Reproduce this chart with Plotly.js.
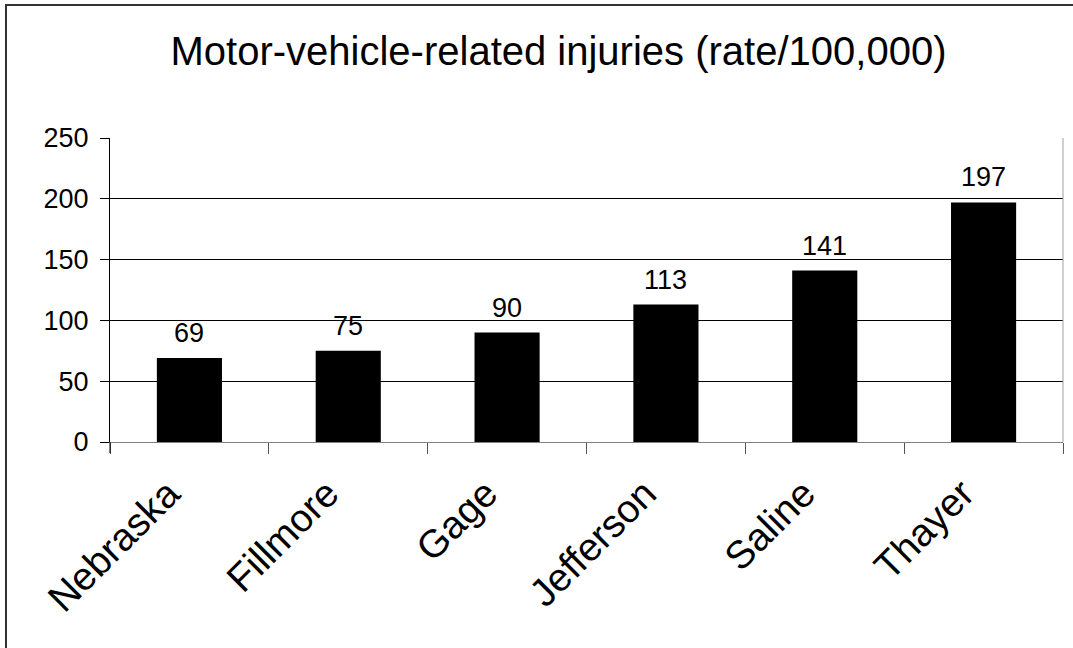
<!DOCTYPE html>
<html>
<head>
<meta charset="utf-8">
<script src="https://cdn.plot.ly/plotly-3.0.1.min.js"></script>
<style>
  html, body { margin: 0; padding: 0; background: #fff; }
  #wrap { position: relative; width: 1073px; height: 648px; overflow: hidden; }
  #chart { position: absolute; left: 0; top: 0; width: 1073px; height: 648px; }
  .bl { position: absolute; left: 5px; top: 4px; width: 2px; height: 644px; background: #333; pointer-events: none; }
  .bt { position: absolute; left: 5px; top: 4px; width: 1068px; height: 2px; background: #333; pointer-events: none; }
</style>
</head>
<body>
<div id="wrap">
  <div id="chart"></div>
  <div class="bl"></div>
  <div class="bt"></div>
</div>
<script>
const chartTitle = "Motor-vehicle-related injuries (rate/100,000)";
const categories = ["Nebraska", "Fillmore", "Gage", "Jefferson", "Saline", "Thayer"];
const rates = [69, 75, 90, 113, 141, 197];
const yTickValues = [0, 50, 100, 150, 200, 250];

const FONT = '"Liberation Sans", Arial, Helvetica, sans-serif';

const trace = {
  type: 'bar',
  x: categories,
  y: rates,
  marker: { color: '#000000', line: { width: 0 } },
  hoverinfo: 'skip'
};

const annotations = categories.map((c, i) => ({
  x: c,
  y: rates[i],
  xref: 'x',
  yref: 'y',
  text: String(rates[i]),
  showarrow: false,
  yanchor: 'bottom',
  yshift: 8,
  font: { family: FONT, size: 27, color: '#000' }
}));

const layout = {
  width: 1073,
  height: 648,
  paper_bgcolor: '#ffffff',
  plot_bgcolor: '#ffffff',
  margin: { l: 110, r: 10, t: 138, b: 206 },
  showlegend: false,
  bargap: 0.59,
  title: {
    text: chartTitle,
    font: { family: FONT, size: 40, color: '#000' },
    xref: 'container',
    yref: 'container',
    x: 0.5205,
    xanchor: 'center',
    y: 1 - 51 / 648,
    yanchor: 'middle'
  },
  xaxis: {
    type: 'category',
    tickson: 'boundaries',
    ticks: 'outside',
    ticklen: 11,
    tickcolor: '#555',
    tickwidth: 1,
    showline: true,
    linecolor: '#808080',
    linewidth: 1,
    showgrid: false,
    tickangle: -45,
    ticklabelstandoff: 12,
    ticklabelshift: -21,
    tickfont: { family: FONT, size: 39, color: '#000' },
    fixedrange: true
  },
  yaxis: {
    range: [0, 250],
    tickvals: yTickValues,
    ticktext: yTickValues.map(String),
    ticks: 'outside',
    ticklen: 9,
    tickcolor: '#000',
    showline: true,
    linecolor: '#000',
    linewidth: 1,
    showgrid: true,
    gridcolor: '#000',
    gridwidth: 1,
    zeroline: false,
    ticklabelstandoff: 6,
    tickfont: { family: FONT, size: 27, color: '#000' },
    fixedrange: true
  },
  shapes: [
    { type: 'line', xref: 'paper', yref: 'paper', x0: 1, x1: 1, y0: 0, y1: 1,
      line: { color: '#a0a0a0', width: 1 } },
    { type: 'line', xref: 'paper', yref: 'paper', x0: 0, x1: 0, y0: 0, y1: -11 / 304,
      line: { color: '#000', width: 1 } }
  ],
  annotations: annotations
};

Plotly.newPlot('chart', [trace], layout, { displayModeBar: false, staticPlot: true });
</script>
</body>
</html>
